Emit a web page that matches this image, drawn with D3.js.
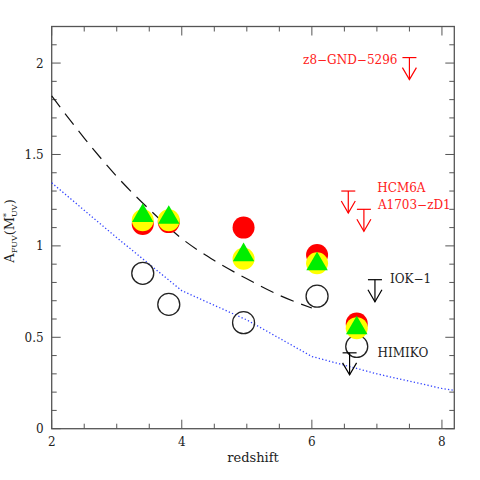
<!DOCTYPE html>
<html>
<head>
<meta charset="utf-8">
<script src="https://cdn.jsdelivr.net/npm/d3@7"></script>
<style>
  body { margin: 0; background: #fff; }
  text { font-family: "DejaVu Serif", serif; fill: #222; }
</style>
</head>
<body>
<div id="chart"></div>
<script>
// redshift bins of the measurements
const redshifts = [3.4, 3.8, 4.95, 6.08, 6.69];
// A_FUV values per method
const openValues   = [0.85, 0.68, 0.58, 0.725, 0.45];
const redValues    = [1.12, 1.13, 1.10, 0.95, 0.575];
const yellowValues = [1.14, 1.14, 0.93, 0.905, 0.55];
const greenValues  = [1.165, 1.155, 0.95, 0.90, 0.55];

// upper limits on individual objects
const limitNames  = ["z8\u2212GND\u22125296", "HCM6A", "A1703\u2212zD1", "IOK\u22121", "HIMIKO"];
const limitZ      = [7.50, 6.56, 6.80, 6.97, 6.58];
const limitValues = [2.03, 1.30, 1.20, 0.815, 0.415];
const limitColors = ["red", "red", "red", "black", "black"];

// model curves
const dashedZ = [2, 2.5, 3, 3.5, 4, 4.5, 5, 5.5, 6];
const dashedA = [1.82, 1.59, 1.38, 1.20, 1.04, 0.92, 0.82, 0.73, 0.66];
const dottedZ = [2, 3, 4, 5, 6, 7, 8, 8.19];
const dottedA = [1.345, 1.045, 0.755, 0.595, 0.395, 0.30, 0.22, 0.21];

const xTicks = [2, 4, 6, 8];
const yTicks = [0, 0.5, 1, 1.5, 2];

// label placement relative to the arrow bar (pixels)
const labelOffsets = [[-12, 6, "end"], [29, 1, "start"], [14, 0, "start"], [15, 3, "start"], [28, 4, "start"]];

const W = 480, H = 480;
const margin = {top: 26.5, right: 25.7, bottom: 51.3, left: 51.7};

const svg = d3.select("#chart").append("svg")
  .attr("width", W).attr("height", H);

const x = d3.scaleLinear().domain([2, 8.19]).range([margin.left, W - margin.right]);
const y = d3.scaleLinear().domain([0, 2.2]).range([H - margin.bottom, margin.top]);

// axes with inward ticks on all four sides
const axisColor = "#555";
const xMinor = d3.range(2, 8.19, 0.5);
const yMinor = d3.range(0, 2.21, 0.1);

function isMajor(v, step) { return Math.abs(v / step - Math.round(v / step)) < 1e-6; }

const frame = svg.append("g");
frame.append("rect")
  .attr("x", x.range()[0]).attr("y", y.range()[1])
  .attr("width", x.range()[1] - x.range()[0])
  .attr("height", y.range()[0] - y.range()[1])
  .attr("fill", "none").attr("stroke", axisColor).attr("stroke-width", 1.3);

xMinor.forEach(v => {
  const len = isMajor(v, 2) ? 9 : 5;
  frame.append("line").attr("x1", x(v)).attr("x2", x(v))
    .attr("y1", y(0)).attr("y2", y(0) - len).attr("stroke", axisColor);
  frame.append("line").attr("x1", x(v)).attr("x2", x(v))
    .attr("y1", y(2.2)).attr("y2", y(2.2) + len).attr("stroke", axisColor);
});
yMinor.forEach(v => {
  const len = isMajor(v, 0.5) ? 9 : 5;
  frame.append("line").attr("y1", y(v)).attr("y2", y(v))
    .attr("x1", x(2)).attr("x2", x(2) + len).attr("stroke", axisColor);
  frame.append("line").attr("y1", y(v)).attr("y2", y(v))
    .attr("x1", x(8.19)).attr("x2", x(8.19) - len).attr("stroke", axisColor);
});

svg.append("g").selectAll("text").data(xTicks).join("text")
  .attr("x", d => x(d)).attr("y", y(0) + 17)
  .attr("text-anchor", "middle").style("font-size", "12px")
  .text(d => d);
svg.append("g").selectAll("text").data(yTicks).join("text")
  .attr("x", x(2) - 8).attr("y", d => y(d) + 4.5)
  .attr("text-anchor", "end").style("font-size", "12px")
  .text(d => d);

svg.append("text").attr("x", (x.range()[0] + x.range()[1]) / 2).attr("y", 462)
  .attr("text-anchor", "middle").style("font-size", "13px").text("redshift");

const ylab = svg.append("text")
  .attr("transform", "translate(13.5,231) rotate(-90)")
  .attr("text-anchor", "middle").style("font-size", "13px");
ylab.append("tspan").text("A");
ylab.append("tspan").attr("dy", 3).style("font-size", "8px").text("FUV");
ylab.append("tspan").attr("dy", -3).text("(M");
ylab.append("tspan").attr("dy", -5).style("font-size", "8px").text("*");
ylab.append("tspan").attr("dx", -4).attr("dy", 8).style("font-size", "8px").text("UV");
ylab.append("tspan").attr("dy", -3).text(")");

// model curves
const line = d3.line().x(d => x(d[0])).y(d => y(d[1]));
svg.append("path")
  .attr("d", line.curve(d3.curveMonotoneX)(d3.zip(dashedZ, dashedA)))
  .attr("fill", "none").attr("stroke", "#111").attr("stroke-width", 1.2)
  .attr("stroke-dasharray", "14,8");
svg.append("path")
  .attr("d", d3.line().x(d => x(d[0])).y(d => y(d[1]))(d3.zip(dottedZ, dottedA)))
  .attr("fill", "none").attr("stroke", "#3344ff").attr("stroke-width", 1.3)
  .attr("stroke-dasharray", "1.3,2.2");

// measurements
const R = 11;
svg.append("g").selectAll("circle").data(d3.zip(redshifts, openValues)).join("circle")
  .attr("cx", d => x(d[0])).attr("cy", d => y(d[1])).attr("r", R)
  .attr("fill", "none").attr("stroke", "#222").attr("stroke-width", 1.3);
svg.append("g").selectAll("circle").data(d3.zip(redshifts, redValues)).join("circle")
  .attr("cx", d => x(d[0])).attr("cy", d => y(d[1])).attr("r", R).attr("fill", "#ff0000");
svg.append("g").selectAll("circle").data(d3.zip(redshifts, yellowValues)).join("circle")
  .attr("cx", d => x(d[0])).attr("cy", d => y(d[1])).attr("r", R).attr("fill", "#ffff00");
svg.append("g").selectAll("path").data(d3.zip(redshifts, greenValues)).join("path")
  .attr("transform", d => `translate(${x(d[0])},${y(d[1])})`)
  .attr("d", d3.symbol(d3.symbolTriangle, 200))
  .attr("fill", "#00ee00");

// upper limit arrows
const arrows = svg.append("g").selectAll("g").data(limitNames).join("g")
  .attr("transform", (d, i) => `translate(${x(limitZ[i])},${y(limitValues[i])})`)
  .attr("stroke", (d, i) => limitColors[i]).attr("stroke-width", 1.2).attr("fill", "none");
arrows.append("line").attr("x1", -7).attr("x2", 7);
arrows.append("line").attr("y1", 0).attr("y2", 22);
arrows.append("path").attr("d", "M-7,10L0,22L7,10");
arrows.append("text")
  .attr("x", (d, i) => labelOffsets[i][0]).attr("y", (d, i) => labelOffsets[i][1])
  .attr("text-anchor", (d, i) => labelOffsets[i][2])
  .attr("stroke", "none").style("fill", (d, i) => limitColors[i] === "red" ? "#ff2020" : "#222")
  .style("font-size", "12px")
  .text(d => d);
</script>
</body>
</html>
